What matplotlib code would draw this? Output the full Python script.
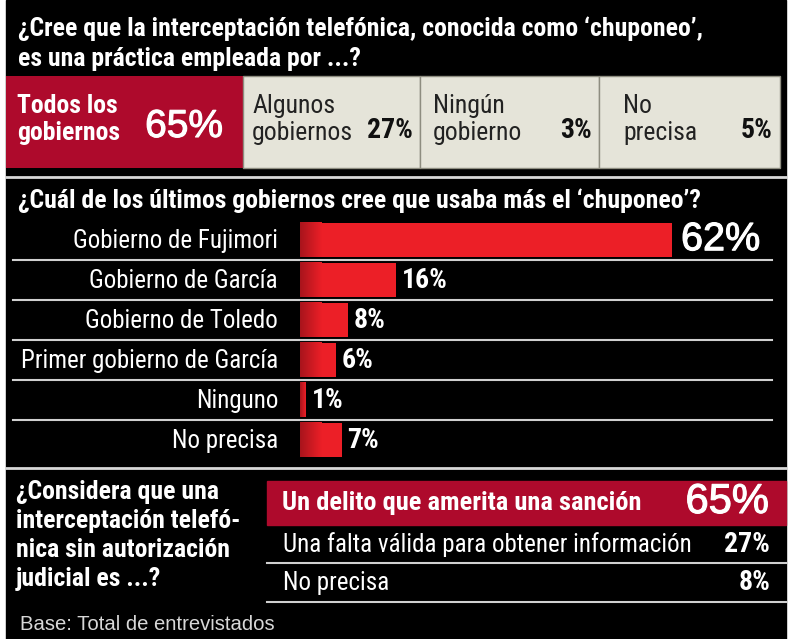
import matplotlib
matplotlib.use("Agg")
import matplotlib.pyplot as plt
import matplotlib.patheffects as pe
import numpy as np
from matplotlib.colors import LinearSegmentedColormap

W, H = 795, 639
NARROW = ["Roboto Condensed", "DejaVu Sans"]
WIDE = ["Liberation Sans", "DejaVu Sans"]

# --- data ---
q1_title = ["¿Cree que la interceptación telefónica, conocida como ‘chuponeo’,",
            "es una práctica empleada por ...?"]
q1_labels = ["Todos los\ngobiernos", "Algunos\ngobiernos", "Ningún\ngobierno", "No\nprecisa"]
q1_values = [65, 27, 3, 5]

q2_title = "¿Cuál de los últimos gobiernos cree que usaba más el ‘chuponeo’?"
q2_labels = ["Gobierno de Fujimori", "Gobierno de García", "Gobierno de Toledo",
             "Primer gobierno de García", "Ninguno", "No precisa"]
q2_values = [62, 16, 8, 6, 1, 7]

q3_title = ["¿Considera que una", "interceptación telefó-",
            "nica sin autorización", "judicial es ...?"]
q3_labels = ["Un delito que amerita una sanción",
             "Una falta válida para obtener información", "No precisa"]
q3_values = [65, 27, 8]

footnote = "Base: Total de entrevistados"

RED_DARK = "#AE0A2C"
BEIGE = "#E5E4D9"
BAR_RED = "#EC1F27"
# slightly heavier look for the big regular-weight percentages
BIG = [pe.withStroke(linewidth=0.8, foreground="white")]

fig = plt.figure(figsize=(W / 100, H / 100), dpi=100)
fig.patch.set_facecolor("white")

# full-figure axes in pixel coordinates for the layout
ax = fig.add_axes([0, 0, 1, 1])
ax.set_xlim(0, W)
ax.set_ylim(H, 0)
ax.axis("off")
ax.add_patch(plt.Rectangle((6, 0), 780, H, color="black", zorder=0))

# ---------- section 1 ----------
for i, line in enumerate(q1_title):
    ax.text(18, 29 + i * 30, line, color="white", fontsize=18.5, fontweight="bold",
            family=NARROW, va="center", ha="left")

box_edges = [6, 243, 420, 599, 780]
text_x = [17, 252, 433, 623]
for i, (lab, val) in enumerate(zip(q1_labels, q1_values)):
    x0, x1 = box_edges[i], box_edges[i + 1]
    first = i == 0
    ax.add_patch(plt.Rectangle((x0, 76), x1 - x0, 92,
                               facecolor=RED_DARK if first else BEIGE,
                               edgecolor="none" if first else "#8E8D80",
                               linewidth=1, zorder=1))
    for k, part in enumerate(lab.split("\n")):
        ax.text(text_x[i], 106 + k * 27, part,
                color="white" if first else "#222222", fontsize=18.5,
                fontweight="bold" if first else "normal",
                family=NARROW, va="center", ha="left")
    if first:
        ax.text(x1 - 20, 127, f"{val}%", color="white", fontsize=28,
                family=WIDE, va="center", ha="right", path_effects=BIG)
    else:
        ax.text(x1 - 7, 131, f"{val}%", color="#111111", fontsize=20,
                fontweight="bold", family=NARROW, va="center", ha="right")

ax.plot([6, 786], [177, 177], color="#D8D8D8", lw=2, zorder=2)

# ---------- section 2 ----------
ax.text(18, 201, q2_title, color="white", fontsize=18.5, fontweight="bold",
        family=NARROW, va="center", ha="left")

row_top, row_h = 220, 40
bx0, bx1 = 300, 786
px_per_pct = 6.0
bax = fig.add_axes([bx0 / W, 1 - (row_top + row_h * len(q2_values)) / H,
                    (bx1 - bx0) / W, row_h * len(q2_values) / H])
bax.axis("off")
bax.patch.set_alpha(0)

ypos = np.arange(len(q2_values))
bh = 0.87
bax.barh(ypos, q2_values, height=bh, color=BAR_RED, zorder=2)
grad = LinearSegmentedColormap.from_list("g", ["#A8141C", BAR_RED])
gw = 22 / px_per_pct
for y, v in zip(ypos, q2_values):
    bax.imshow(np.linspace(0, 1, 64)[None, :], cmap=grad, aspect="auto",
               extent=[0, min(v, gw), y + bh / 2, y - bh / 2], zorder=3)
    if v == max(q2_values):
        bax.text(v + 1.5, y - 0.02, f"{v}%", color="white", fontsize=28.5,
                 family=WIDE, va="center", ha="left", path_effects=BIG)
    else:
        bax.text(v + 0.9, y + 0.02, f"{v}%", color="white", fontsize=20,
                 fontweight="bold", family=NARROW, va="center", ha="left")
bax.set_xlim(0, (bx1 - bx0) / px_per_pct)
bax.set_ylim(len(q2_values) - 0.5, -0.5)

for i, lab in enumerate(q2_labels):
    yc = row_top + row_h * (i + 0.5)
    ax.text(278, yc + 1, lab, color="white", fontsize=18, family=NARROW,
            va="center", ha="right")
    if i < len(q2_labels) - 1:
        ax.plot([13, 772], [row_top + row_h * (i + 1)] * 2, color="#D0D0D0",
                lw=1.5, zorder=2)

ax.plot([6, 786], [468, 468], color="#D8D8D8", lw=2, zorder=2)

# ---------- section 3 ----------
for i, line in enumerate(q3_title):
    ax.text(16, 492 + i * 29, line, color="white", fontsize=18.5, fontweight="bold",
            family=NARROW, va="center", ha="left")

rows_y = [503, 545, 583]
ax.add_patch(plt.Rectangle((267, 481), 519, 44, color=RED_DARK, zorder=1))
for i, (lab, val) in enumerate(zip(q3_labels, q3_values)):
    if i == 0:
        ax.text(282, rows_y[i], lab, color="white", fontsize=19, fontweight="bold",
                family=NARROW, va="center", ha="left")
        ax.text(769, rows_y[i] - 1, f"{val}%", color="white", fontsize=30,
                family=WIDE, va="center", ha="right", path_effects=BIG)
    else:
        ax.text(283, rows_y[i], lab, color="white", fontsize=18, family=NARROW,
                va="center", ha="left")
        ax.text(770, rows_y[i], f"{val}%", color="white", fontsize=20,
                fontweight="bold", family=NARROW, va="center", ha="right")
for y in [563, 602]:
    ax.plot([267, 786], [y, y], color="#D0D0D0", lw=1.5, zorder=2)

ax.text(20, 624, footnote, color="#D8D8D8", fontsize=14.6, family=WIDE,
        va="center", ha="left")

fig.savefig("out.png", dpi=100, facecolor="white")
